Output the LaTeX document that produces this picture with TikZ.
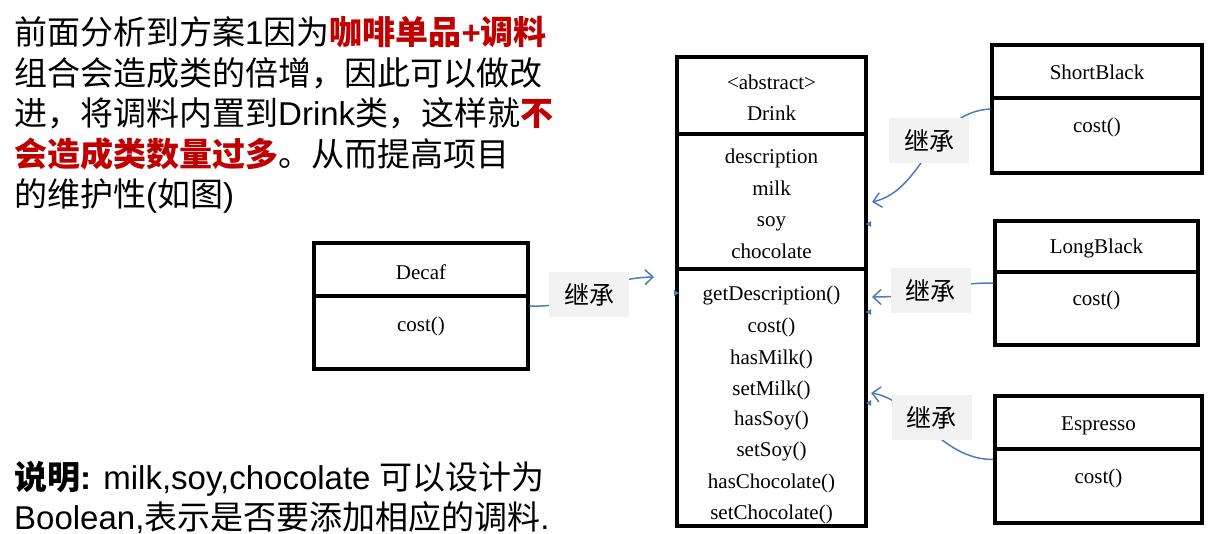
\documentclass[tikz,border=0pt]{standalone}
\usepackage{fontspec}
\setmainfont{Liberation Sans}
\newfontfamily\cjk{Noto Sans CJK SC}
\newfontfamily\tnr{Liberation Serif}
\usetikzlibrary{arrows.meta}
\definecolor{hired}{RGB}{192,0,0}
\definecolor{conn}{RGB}{74,126,187}
\definecolor{lblbg}{RGB}{242,242,242}
\newcommand{\zh}[1]{{\cjk #1}}
\begin{document}
\begin{tikzpicture}[x=1pt,y=-1pt,
  txt/.style={anchor=base west,inner sep=0pt,font=\fontsize{33}{40}\selectfont},
  umlbox/.style 2 args={draw=black,line width=3.2pt,minimum width=#1pt,minimum height=#2pt,inner sep=0pt},
  uml/.style={anchor=base,inner sep=0pt,font=\tnr\fontsize{21}{21}\selectfont},
  divider/.style={draw=black,line width=3.2pt},
  link/.style={draw=conn,line width=1.5pt,-{Straight Barb[length=8pt,width=15pt]}},
  lbl/.style={fill=lblbg,minimum width=80pt,minimum height=45pt,inner sep=0pt,font=\cjk\fontsize{25}{25}\selectfont},
  tinymark/.style={fill=conn}
]
\fill[white] (0,0) rectangle (1212,534);
\useasboundingbox (0,0) rectangle (1212,534);

% left explanatory text
\node[txt] (l1) at (14,45) {\zh{前面分析到方案}1\zh{因为}\textcolor{hired}{\bfseries\zh{咖啡单品}+\zh{调料}}};
\node[txt] (l2) at (14,85.5) {\zh{组合会造成类的倍增，因此可以做改}};
\node[txt] (l3) at (14,126) {\zh{进，将调料内置到}Drink\zh{类，这样就}\textcolor{hired}{\bfseries\zh{不}}};
\node[txt] (l4) at (14,166.5) {\textcolor{hired}{\bfseries\zh{会造成类数量过多}}\zh{。从而提高项目}};
\node[txt] (l5) at (14,207) {\zh{的维护性}(\zh{如图})};
\node[txt] (n1) at (14,489) {\textbf{\zh{说明}:} milk,soy,chocolate \zh{可以设计为}};
\node[txt] (n2) at (14,529) {Boolean,\zh{表示是否要添加相应的调料}.};

% Drink class
\node[umlbox={189}{469}] (drink) at (771.5,291.5) {};
\draw[divider] (drink.west |- 0,134) -- (drink.east |- 0,134);
\draw[divider] (drink.west |- 0,269) -- (drink.east |- 0,269);
\node[uml] (d0) at (771.5,90) {\textless abstract\textgreater};
\node[uml] (d1) at (771.5,121) {Drink};
\node[uml] (a1) at (771.5,164) {description};
\node[uml] (a2) at (771.5,196) {milk};
\node[uml] (a3) at (771.5,227) {soy};
\node[uml] (a4) at (771.5,259) {chocolate};
\node[uml] (m1) at (771.5,301) {getDescription()};
\node[uml] (m2) at (771.5,333) {cost()};
\node[uml] (m3) at (771.5,364) {hasMilk()};
\node[uml] (m4) at (771.5,395) {setMilk()};
\node[uml] (m5) at (771.5,425) {hasSoy()};
\node[uml] (m6) at (771.5,456) {setSoy()};
\node[uml] (m7) at (771.5,488) {hasChocolate()};
\node[uml] (m8) at (771.5,519) {setChocolate()};

% ShortBlack
\node[umlbox={210}{128}] (sb) at (1097,109) {};
\draw[divider] (sb.west |- 0,98) -- (sb.east |- 0,98);
\node[uml] (sbn) at (1097,80) {ShortBlack};
\node[uml] (sbc) at (1097,133) {cost()};

% LongBlack
\node[umlbox={203}{124}] (lb) at (1096.5,283) {};
\draw[divider] (lb.west |- 0,272) -- (lb.east |- 0,272);
\node[uml] (lbn) at (1096.5,254) {LongBlack};
\node[uml] (lbc) at (1096.5,306) {cost()};

% Espresso
\node[umlbox={207}{127}] (es) at (1098.5,459.5) {};
\draw[divider] (es.west |- 0,449) -- (es.east |- 0,449);
\node[uml] (esn) at (1098.5,430) {Espresso};
\node[uml] (esc) at (1098.5,483) {cost()};

% Decaf
\node[umlbox={214}{126}] (dc) at (421,306) {};
\draw[divider] (dc.west |- 0,296) -- (dc.east |- 0,296);
\node[uml] (dcn) at (421,280) {Decaf};
\node[uml] (dcc) at (421,332) {cost()};

% connectors
\coordinate (t1) at (872,202);
\coordinate (t2) at (872,297);
\coordinate (t3) at (871,393);
\coordinate (t4) at (654,277);
\draw[link] (sb.west) .. controls (930,112) and (925,190) .. (t1);
\draw[link] (lb.west) .. controls (935,283) and (930,297) .. (t2);
\draw[link] (es.west) .. controls (940,460) and (915,400) .. (t3);
\draw[link] (dc.east) .. controls (590,308) and (595,278) .. (t4);

% labels
\node[lbl] (k1) at (929,141) {继承};
\node[lbl] (k2) at (930.5,290.5) {继承};
\node[lbl] (k3) at (931.5,417.5) {继承};
\node[lbl] (k4) at (589,294.5) {继承};

% tiny connection marks
\fill[tinymark] (866,224) -- (871,221) -- (871,227) -- cycle;
\fill[tinymark] (866,312) -- (871,309) -- (871,315) -- cycle;
\fill[tinymark] (866,403) -- (871,400) -- (871,406) -- cycle;
\fill[tinymark] (679,293) -- (674,290) -- (674,296) -- cycle;
\end{tikzpicture}
\end{document}
